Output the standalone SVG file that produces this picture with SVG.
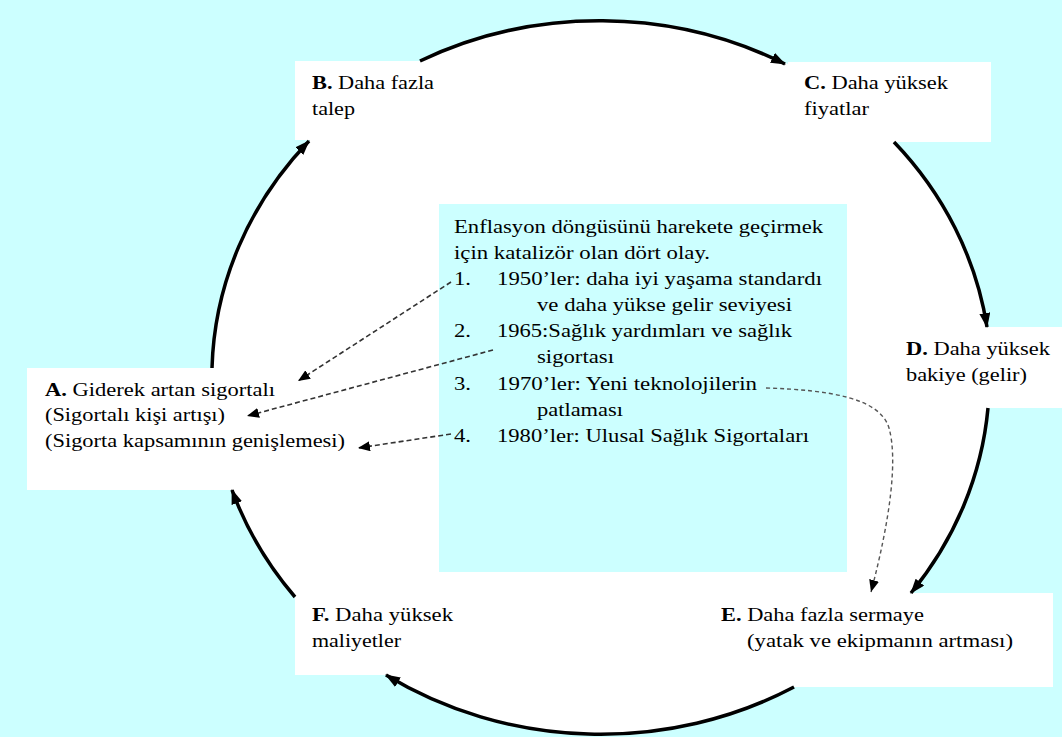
<svg xmlns="http://www.w3.org/2000/svg" width="1062" height="737" viewBox="0 0 1062 737">
<defs>
<style>
.bg{fill:#CCFFFF}
.box{fill:#FFFFFF;stroke:none}
.cbox{fill:#CCFFFF;stroke:none}
.t{font-family:"Liberation Serif",serif;font-size:18.5px;fill:#000}
.b{font-weight:bold}
.arc{fill:none;stroke:#000;stroke-width:3.5}
.dash{fill:none;stroke:#333;stroke-width:1.6;stroke-dasharray:5 3}
.dash2{fill:none;stroke:#555;stroke-width:1.4;stroke-dasharray:4 3}
</style>
<marker id="big" markerUnits="userSpaceOnUse" markerWidth="15" markerHeight="11" refX="14" refY="5.5" orient="auto">
<path d="M0,0 L15,5.5 L0,11 z" fill="#000"/>
</marker>
<marker id="small" markerUnits="userSpaceOnUse" markerWidth="12" markerHeight="10" refX="12" refY="5" orient="auto">
<path d="M0,0 L12,5 L0,10 z" fill="#000"/>
</marker>
</defs>
<rect class="bg" x="0" y="0" width="1062" height="737"/>
<ellipse cx="601" cy="377" rx="389" ry="357" fill="#FFFFFF"/>

<g id="node-center" font-family="Liberation Serif, serif">
<rect class="cbox" x="439" y="204" width="408" height="368"/>
<text class="t" x="454" y="232.5" textLength="369" lengthAdjust="spacingAndGlyphs">Enflasyon döngüsünü harekete geçirmek</text>
<text class="t" x="454" y="258.5" textLength="256" lengthAdjust="spacingAndGlyphs">için katalizör olan dört olay.</text>
<text class="t" x="454" y="285" textLength="17" lengthAdjust="spacingAndGlyphs">1.</text>
<text class="t" x="497" y="285" textLength="325" lengthAdjust="spacingAndGlyphs">1950’ler: daha iyi yaşama standardı</text>
<text class="t" x="537" y="311" textLength="255" lengthAdjust="spacingAndGlyphs">ve daha yükse gelir seviyesi</text>
<text class="t" x="454" y="337" textLength="17" lengthAdjust="spacingAndGlyphs">2.</text>
<text class="t" x="497" y="337" textLength="295" lengthAdjust="spacingAndGlyphs">1965:Sağlık yardımları ve sağlık</text>
<text class="t" x="537" y="363" textLength="77" lengthAdjust="spacingAndGlyphs">sigortası</text>
<text class="t" x="454" y="389.5" textLength="17" lengthAdjust="spacingAndGlyphs">3.</text>
<text class="t" x="497" y="389.5" textLength="260" lengthAdjust="spacingAndGlyphs">1970’ler: Yeni teknolojilerin</text>
<text class="t" x="537" y="415.5" textLength="86" lengthAdjust="spacingAndGlyphs">patlaması</text>
<text class="t" x="454" y="441.5" textLength="17" lengthAdjust="spacingAndGlyphs">4.</text>
<text class="t" x="497" y="441.5" textLength="312" lengthAdjust="spacingAndGlyphs">1980’ler: Ulusal Sağlık Sigortaları</text>
</g>

<g id="node-A" font-family="Liberation Serif, serif">
<rect class="box" x="27" y="368" width="410" height="122"/>
<text class="t" x="45" y="396" textLength="230" lengthAdjust="spacingAndGlyphs"><tspan class="b">A.</tspan> Giderek artan sigortalı</text>
<text class="t" x="45" y="421" textLength="180" lengthAdjust="spacingAndGlyphs">(Sigortalı kişi artışı)</text>
<text class="t" x="45" y="447" textLength="300" lengthAdjust="spacingAndGlyphs">(Sigorta kapsamının genişlemesi)</text>
</g>

<g id="node-B" font-family="Liberation Serif, serif">
<rect class="box" x="295" y="61" width="202" height="79"/>
<text class="t" x="312" y="89" textLength="122" lengthAdjust="spacingAndGlyphs"><tspan class="b">B.</tspan> Daha fazla</text>
<text class="t" x="312" y="115" textLength="43" lengthAdjust="spacingAndGlyphs">talep</text>
</g>

<g id="node-C" font-family="Liberation Serif, serif">
<rect class="box" x="788" y="62" width="203" height="80"/>
<text class="t" x="804" y="89" textLength="144" lengthAdjust="spacingAndGlyphs"><tspan class="b">C.</tspan> Daha yüksek</text>
<text class="t" x="804" y="115" textLength="65" lengthAdjust="spacingAndGlyphs">fiyatlar</text>
</g>

<g id="node-D" font-family="Liberation Serif, serif">
<rect class="box" x="884" y="327" width="178" height="81"/>
<text class="t" x="906" y="355" textLength="144" lengthAdjust="spacingAndGlyphs"><tspan class="b">D.</tspan> Daha yüksek</text>
<text class="t" x="906" y="381" textLength="121" lengthAdjust="spacingAndGlyphs">bakiye (gelir)</text>
</g>

<g id="node-E" font-family="Liberation Serif, serif">
<rect class="box" x="700" y="593" width="353" height="94"/>
<text class="t" x="721" y="621" textLength="203" lengthAdjust="spacingAndGlyphs"><tspan class="b">E.</tspan> Daha fazla sermaye</text>
<text class="t" x="747" y="647" textLength="266" lengthAdjust="spacingAndGlyphs">(yatak ve ekipmanın artması)</text>
</g>

<g id="node-F" font-family="Liberation Serif, serif">
<rect class="box" x="295" y="593" width="202" height="82"/>
<text class="t" x="312" y="621" textLength="141" lengthAdjust="spacingAndGlyphs"><tspan class="b">F.</tspan> Daha yüksek</text>
<text class="t" x="312" y="647" textLength="89" lengthAdjust="spacingAndGlyphs">maliyetler</text>
</g>

<g id="connectors">
<path class="arc" marker-end="url(#big)" d="M212,368 A389,357 0 0 1 309,141"/>
<path class="arc" marker-end="url(#big)" d="M420,61 A389,357 0 0 1 785,64"/>
<path class="arc" marker-end="url(#big)" d="M894,142 A389,357 0 0 1 987,327"/>
<path class="arc" marker-end="url(#big)" d="M988,408 A389,357 0 0 1 911,593"/>
<path class="arc" marker-end="url(#big)" d="M794,687 A389,357 0 0 1 386,675"/>
<path class="arc" marker-end="url(#big)" d="M295,597 A389,357 0 0 1 232,490"/>
<path class="dash" marker-end="url(#small)" d="M451,282 L298,381"/>
<path class="dash" marker-end="url(#small)" d="M493,350 L247,416"/>
<path class="dash" marker-end="url(#small)" d="M451,434 L358,448"/>
<path class="dash2" marker-end="url(#small)" d="M766,388 C830,390 880,398 889,428 C898,460 890,520 871,592"/>
</g>
</svg>
